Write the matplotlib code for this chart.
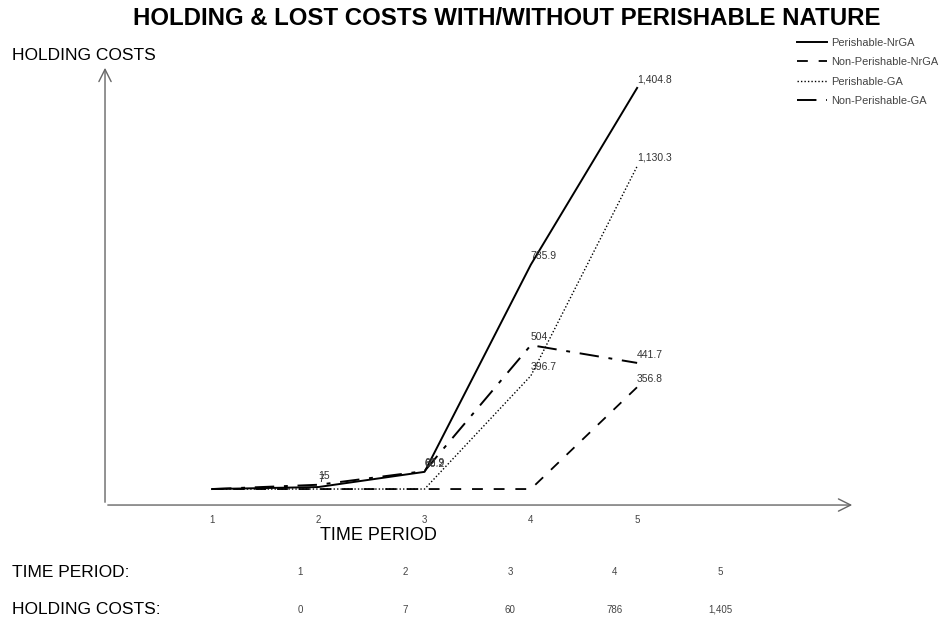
import numpy as np
import matplotlib.pyplot as plt

periods = [1, 2, 3, 4, 5]
perishable_nrga = [0, 7.0, 60.2, 785.9, 1404.8]
non_perishable_nrga = [0, 0, 0, 0, 356.8]
perishable_ga = [0, 0, 0, 396.7, 1130.3]
non_perishable_ga = [0, 15, 62.9, 504, 441.7]
series_names = ["Perishable-NrGA", "Non-Perishable-NrGA", "Perishable-GA", "Non-Perishable-GA"]
table_costs = ["0", "7", "60", "786", "1,405"]

plt.rcParams['font.family'] = ['Liberation Sans', 'DejaVu Sans']

fig = plt.figure(figsize=(9.41, 6.18), dpi=100)
ax = fig.add_axes([0.1116, 0.1828, 0.797, 0.712])
ax.set_xlim(-0.007, 7.05)
ax.set_ylim(-56, 1485)

styles = [dict(ls='-', lw=1.4),
          dict(ls=(0, (6, 6)), lw=1.3),
          dict(ls=(0, (1, 1.5)), lw=1.0),
          dict(ls=(0, (10, 5, 2, 5)), lw=1.4)]
data = [perishable_nrga, non_perishable_nrga, perishable_ga, non_perishable_ga]

for name, vals, st in zip(series_names, data, styles):
    ax.plot(periods, vals, color='black', label=name, **st)
    for x, v in zip(periods, vals):
        if v == 0:
            continue
        txt = f"{v:,.1f}"
        if txt.endswith(".0"):
            txt = txt[:-2]
        ax.annotate(txt, (x, v), xytext=(0, 6), textcoords='offset points',
                    fontsize=7.5, color='#333333', ha='left', va='center')

for s in ax.spines.values():
    s.set_visible(False)
ax.set_yticks([])
ax.set_xticks(periods)
ax.tick_params(axis='x', length=0, labelsize=7, colors='#444444', pad=7)

# axis arrows
ax.annotate('', xy=(1.0, 0), xytext=(0, 0), xycoords='axes fraction',
            arrowprops=dict(arrowstyle='->', color='#666666', lw=1.0, mutation_scale=22))
ax.annotate('', xy=(0, 1.0), xytext=(0, 0), xycoords='axes fraction',
            arrowprops=dict(arrowstyle='->', color='#666666', lw=1.0, mutation_scale=22))

fig.text(0.539, 0.97, "HOLDING & LOST COSTS WITH/WITHOUT PERISHABLE NATURE",
         ha='center', va='center', fontsize=17.3, fontweight='bold')
fig.text(0.013, 0.911, "HOLDING COSTS", ha='left', va='center', fontsize=12.5)
fig.text(0.402, 0.133, "TIME PERIOD", ha='center', va='center', fontsize=13)

leg = ax.legend(loc='upper left', bbox_to_anchor=(797 / 941, 1 - 38 / 618),
                bbox_transform=fig.transFigure, frameon=False, fontsize=7.9,
                handlelength=2.7, handletextpad=0.45, labelspacing=0.85, borderpad=0,
                borderaxespad=0)
for t in leg.get_texts():
    t.set_color('#444444')

fig.text(0.013, 0.074, "TIME PERIOD:", ha='left', va='center', fontsize=12.5)
fig.text(0.013, 0.013, "HOLDING COSTS:", ha='left', va='center', fontsize=12.5)
col_x = [300, 405, 510, 615, 720]
for cx, p, c in zip(col_x, periods, table_costs):
    fig.text(cx / 941, 0.074, str(p), ha='center', va='center', fontsize=7, color='#444444')
    fig.text(cx / 941, 0.013, c, ha='center', va='center', fontsize=7, color='#444444')

fig.savefig('out.png', dpi=100, facecolor='white')
